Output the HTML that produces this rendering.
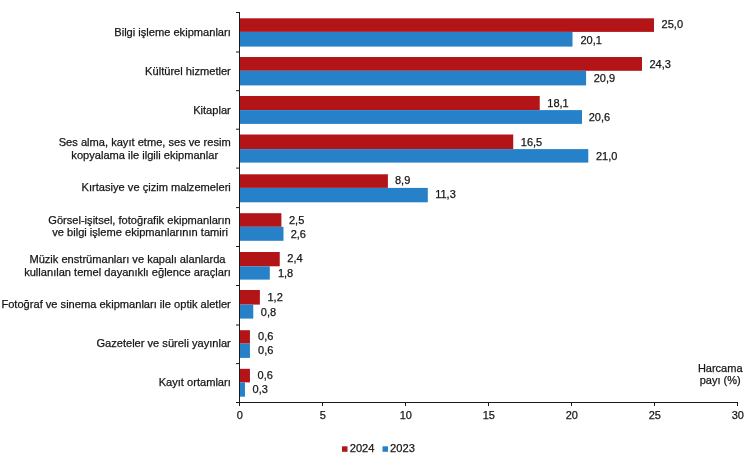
<!DOCTYPE html>
<html lang="tr">
<head>
<meta charset="utf-8">
<title>Harcama payı (%)</title>
<style>
html,body{margin:0;padding:0;background:#fff;}
body{width:750px;height:459px;overflow:hidden;}
svg{display:block;}
text{font-family:"Liberation Sans",sans-serif;font-size:11px;fill:#161616;stroke:#161616;stroke-width:0.25px;}
.e{text-anchor:end}.m{text-anchor:middle}.c{font-size:11.1px}.g{font-size:11.15px}
</style>
</head>
<body>
<svg width="750" height="459" viewBox="0 0 750 459">
<rect width="750" height="459" fill="#fff"/>
<rect x="239.5" y="18.3" width="414.5" height="13.6" fill="#b21418"/>
<rect x="239.5" y="31.9" width="333" height="14.7" fill="#2781c8"/>
<text x="661.6" y="28">25,0</text>
<text x="580.46" y="44">20,1</text>
<text class="e c" x="230.8" y="36">Bilgi işleme ekipmanları</text>
<rect x="239.5" y="57" width="402.5" height="13.8" fill="#b21418"/>
<rect x="239.5" y="70.8" width="346.6" height="14.6" fill="#2781c8"/>
<text x="649.4" y="68">24,3</text>
<text x="593.7" y="82">20,9</text>
<text class="e c" x="230.8" y="75">Kültürel hizmetler</text>
<rect x="239.5" y="96" width="300.24" height="14.1" fill="#b21418"/>
<rect x="239.5" y="110.1" width="342.5" height="13.8" fill="#2781c8"/>
<text x="547.34" y="107">18,1</text>
<text x="588.74" y="121">20,6</text>
<text class="e c" x="230.8" y="114">Kitaplar</text>
<rect x="239.5" y="134.5" width="273.74" height="14.6" fill="#b21418"/>
<rect x="239.5" y="149.1" width="348.8" height="13.5" fill="#2781c8"/>
<text x="520.84" y="146">16,5</text>
<text x="596" y="160">21,0</text>
<text class="m c" x="144.74" y="146">Ses alma, kayıt etme, ses ve resim</text>
<text class="m c" x="144.74" y="159">kopyalama ile ilgili ekipmanlar</text>
<rect x="239.5" y="174.3" width="148.4" height="13.6" fill="#b21418"/>
<rect x="239.5" y="187.9" width="188.3" height="14.4" fill="#2781c8"/>
<text x="394.98" y="184">8,9</text>
<text x="435.2" y="198">11,3</text>
<text class="e c" x="230.8" y="191">Kırtasiye ve çizim malzemeleri</text>
<rect x="239.5" y="213.2" width="41.9" height="13.6" fill="#b21418"/>
<rect x="239.5" y="226.8" width="44" height="14" fill="#2781c8"/>
<text x="289" y="224">2,5</text>
<text x="290.66" y="238">2,6</text>
<text class="m c" x="139.5" y="224">Görsel-işitsel, fotoğrafik ekipmanların</text>
<text class="m c" x="140.1" y="236">ve bilgi işleme ekipmanlarının tamiri</text>
<rect x="239.5" y="252" width="40.24" height="14.3" fill="#b21418"/>
<rect x="239.5" y="266.3" width="30.31" height="13.3" fill="#2781c8"/>
<text x="287.34" y="262">2,4</text>
<text x="277.9" y="277">1,8</text>
<text class="m c" x="127.45" y="263">Müzik enstrümanları ve kapalı alanlarda</text>
<text class="m c" x="127.45" y="276">kullanılan temel dayanıklı eğlence araçları</text>
<rect x="239.5" y="290" width="20.37" height="14.6" fill="#b21418"/>
<rect x="239.5" y="304.6" width="13.75" height="14" fill="#2781c8"/>
<text x="267.47" y="301">1,2</text>
<text x="260.85" y="316">0,8</text>
<text class="e c" x="230.8" y="308">Fotoğraf ve sinema ekipmanları ile optik aletler</text>
<rect x="239.5" y="330.2" width="10.44" height="13.4" fill="#b21418"/>
<rect x="239.5" y="343.6" width="10.44" height="14.3" fill="#2781c8"/>
<text x="258.1" y="340">0,6</text>
<text x="258.1" y="354">0,6</text>
<text class="e c" x="230.8" y="347">Gazeteler ve süreli yayınlar</text>
<rect x="239.5" y="368.8" width="10.44" height="13.6" fill="#b21418"/>
<rect x="239.5" y="382.4" width="5.47" height="14.3" fill="#2781c8"/>
<text x="257.54" y="379">0,6</text>
<text x="252.57" y="393">0,3</text>
<text class="e c" x="230.8" y="386">Kayıt ortamları</text>
<path d="M239.5 12V403M236 402.5H738M236 12.5H240M236 52H240M236 90.7H240M236 129.2H240M236 168.1H240M236 207.6H240M236 246.5H240M236 285.5H240M236 325H240M236 363.6H240M236 402.5H240M239.5 402V406M322.5 402V406M405.5 402V406M488.5 402V406M571.5 402V406M654.5 402V406M737.5 402V406" fill="none" stroke="#1a1a1a" stroke-width="1"/>
<text class="m" x="239.75" y="419">0</text>
<text class="m" x="322.75" y="419">5</text>
<text class="m" x="405.75" y="419">10</text>
<text class="m" x="488.75" y="419">15</text>
<text class="m" x="571.75" y="419">20</text>
<text class="m" x="654.75" y="419">25</text>
<text class="m" x="737.75" y="419">30</text>
<text class="m" x="720.2" y="371.9">Harcama</text>
<text class="m" x="720.2" y="384.2">payı (%)</text>
<rect x="342" y="446.3" width="5.5" height="5.5" fill="#b21418"/>
<text class="g" x="349.7" y="452">2024</text>
<rect x="382.5" y="446.3" width="5.5" height="5.5" fill="#2781c8"/>
<text class="g" x="390.1" y="452">2023</text>
</svg>
</body>
</html>
